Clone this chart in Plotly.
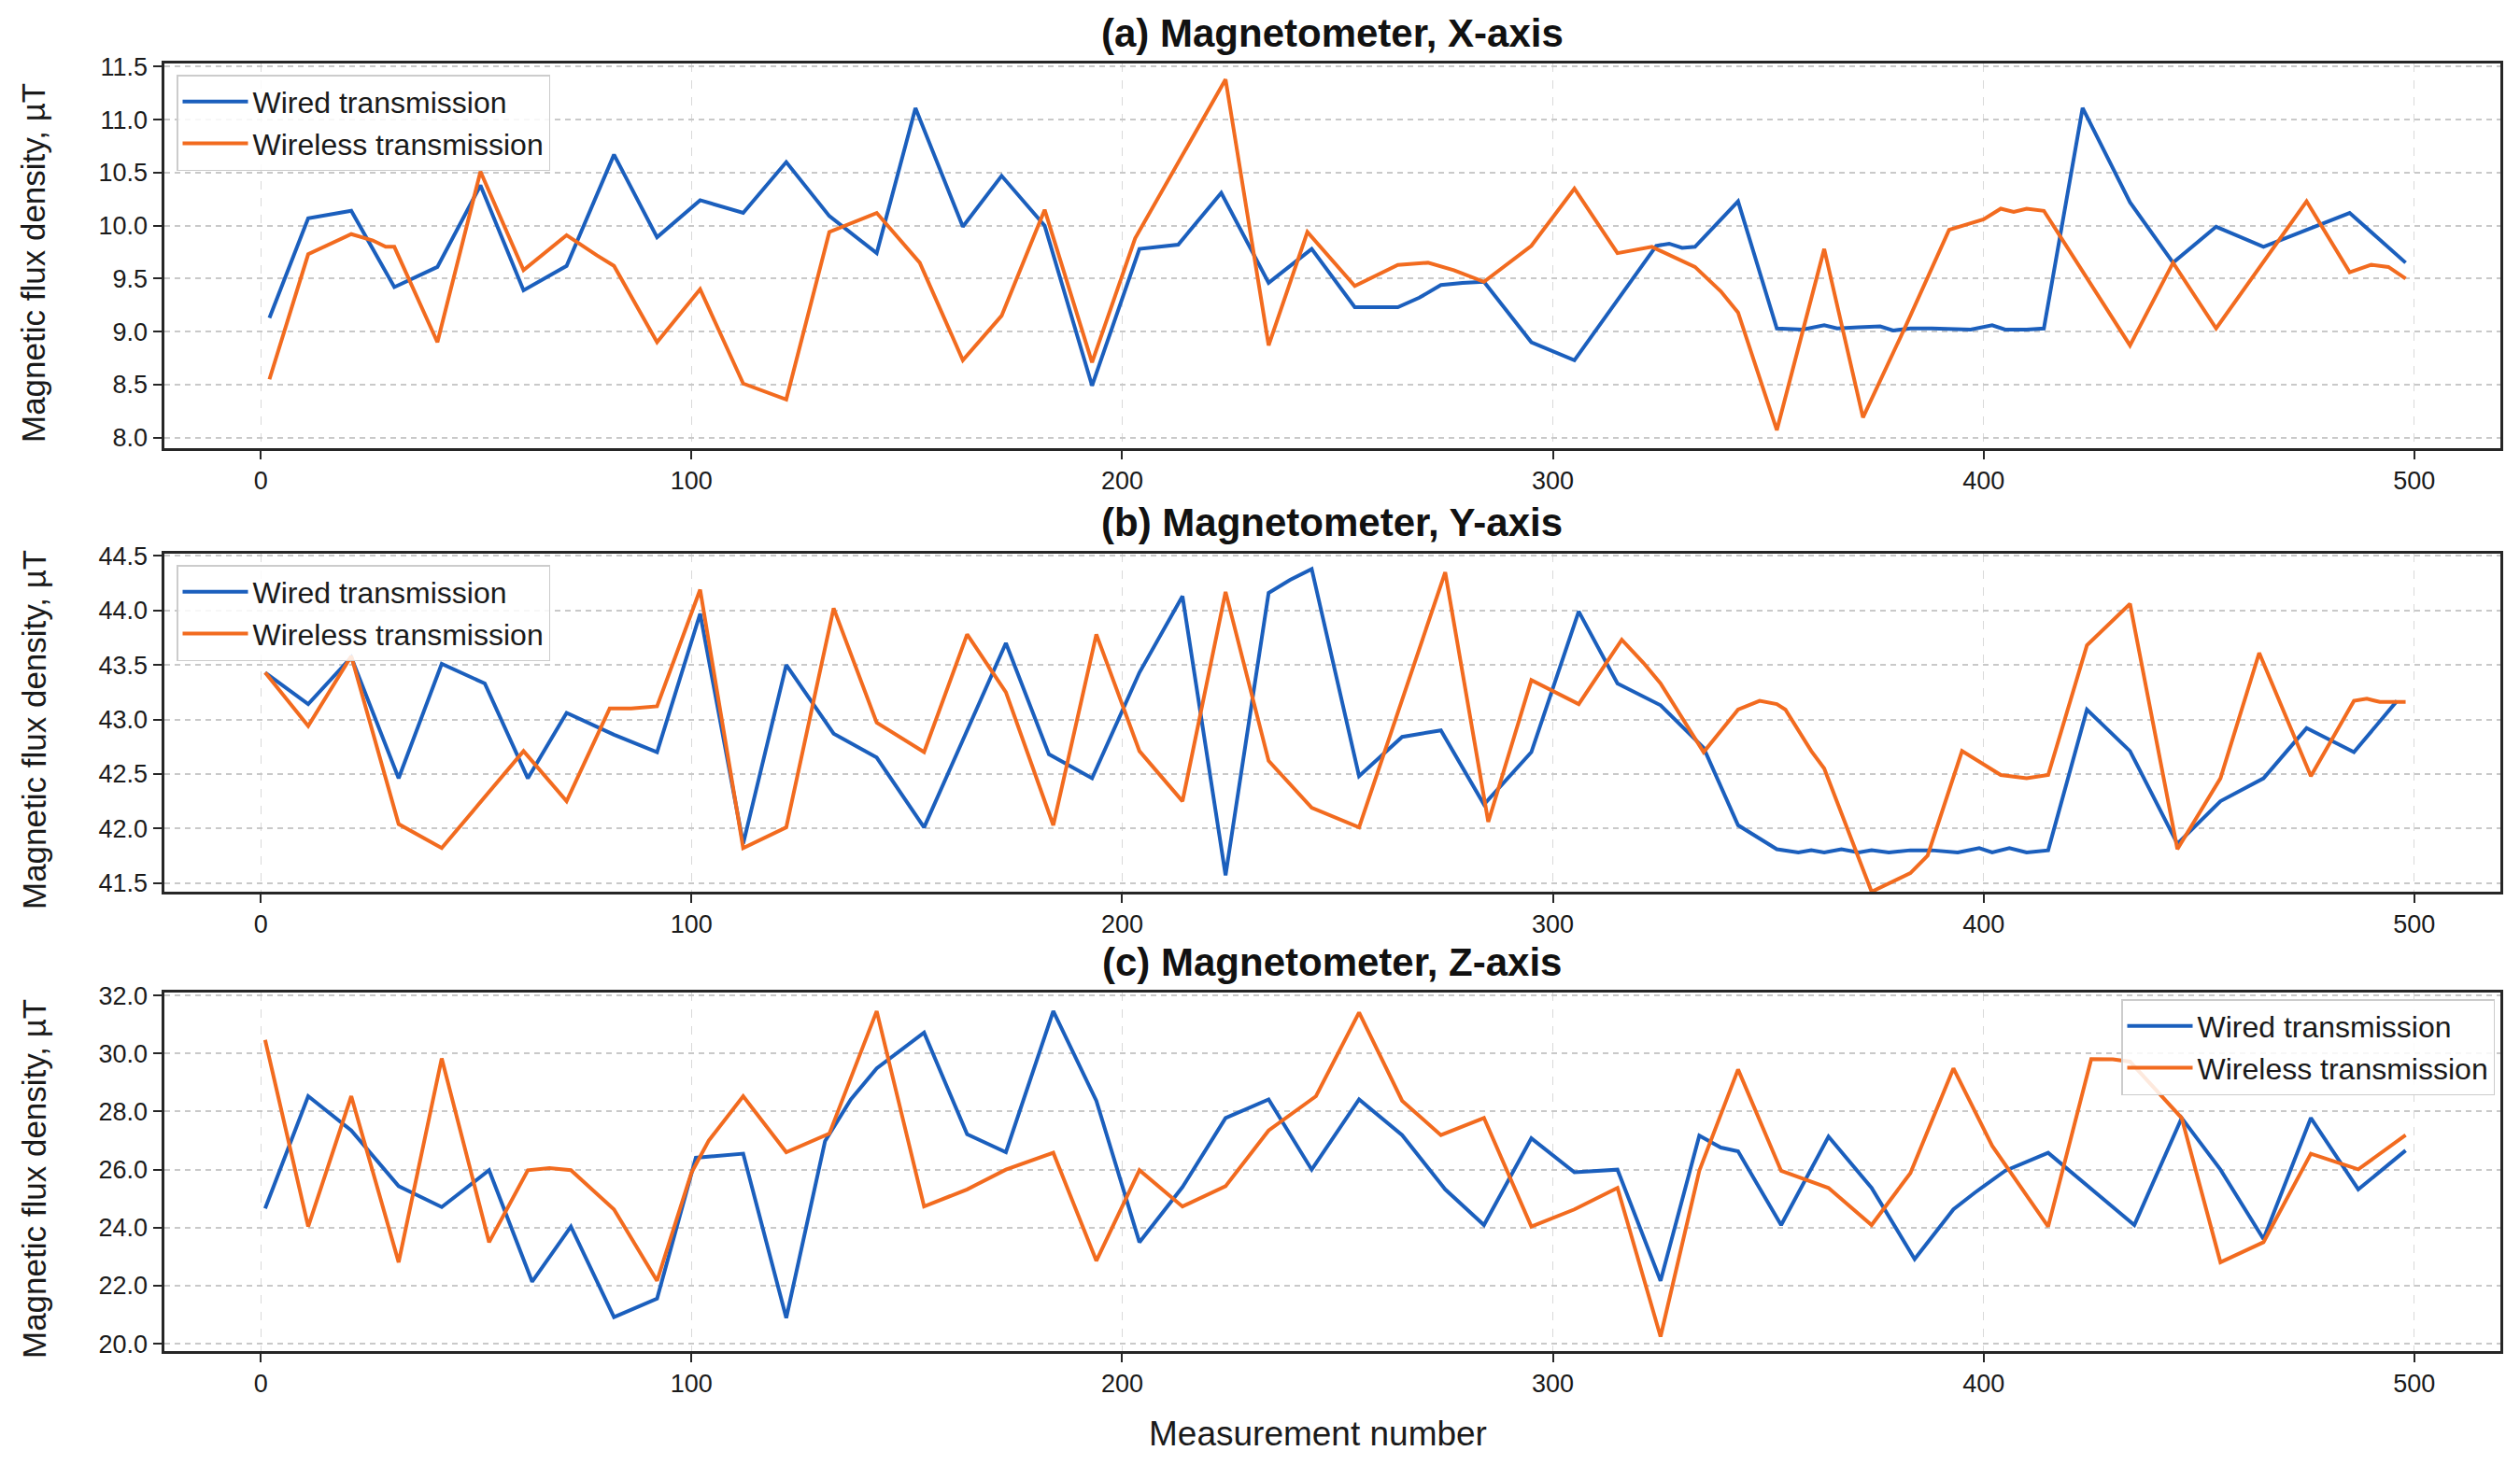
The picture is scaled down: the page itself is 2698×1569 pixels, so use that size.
import plotly.graph_objects as go

# ---------------- data ----------------
# (a) Magnetometer, X-axis
a_wired_x = [2, 11, 21, 31, 41, 51, 61, 71, 82, 92, 102, 112, 122, 132, 143, 152, 163, 172, 182, 193,
             204, 213, 223, 234, 244, 254, 264, 269, 274, 279, 284, 295, 305, 324, 327, 330, 333, 343, 352, 358,
             363, 366, 371, 376, 379, 383, 388, 393, 397, 402, 405, 410, 414, 423, 434, 444, 454, 465, 475, 485, 498]
a_wired_y = [9.13, 10.07, 10.14, 9.42, 9.61, 10.38, 9.39, 9.62, 10.67, 9.89, 10.24, 10.12, 10.60, 10.09, 9.74,
             11.11, 9.99, 10.47, 10.00, 8.49, 9.78, 9.82, 10.31, 9.46, 9.78, 9.23, 9.23, 9.32, 9.44, 9.46,
             9.47, 8.90, 8.73, 9.81, 9.83, 9.79, 9.80, 10.23, 9.03, 9.02, 9.06, 9.03, 9.04, 9.05, 9.01, 9.03,
             9.03, 9.02, 9.02, 9.06, 9.02, 9.02, 9.03, 11.11, 10.22, 9.65, 9.99, 9.80, 9.96, 10.12, 9.65]
a_wireless_x = [2, 11, 21, 26, 29, 31, 41, 51, 61, 71, 78, 82, 92, 102, 112, 122, 132, 143, 153, 163,
                172, 182, 193, 203, 224, 234, 243, 254, 264, 271, 277, 284, 295, 305, 315, 323, 333, 339, 343, 352,
                363, 372, 382, 392, 400, 404, 407, 410, 414, 434, 444, 454, 475, 485, 490, 494, 498]
a_wireless_y = [8.55, 9.73, 9.92, 9.86, 9.80, 9.80, 8.90, 10.51, 9.58, 9.91, 9.72, 9.62, 8.90, 9.40, 8.51,
                8.36, 9.94, 10.12, 9.65, 8.73, 9.15, 10.15, 8.71, 9.88, 11.38, 8.87, 9.94, 9.43, 9.63, 9.65,
                9.58, 9.47, 9.81, 10.35, 9.74, 9.80, 9.61, 9.38, 9.18, 8.07, 9.78, 8.19, 9.06, 9.96, 10.06,
                10.16, 10.13, 10.16, 10.14, 8.87, 9.65, 9.03, 10.23, 9.56, 9.63, 9.61, 9.50]

# (b) Magnetometer, Y-axis
b_wired_x = [1, 11, 21, 32, 42, 52, 62, 71, 82, 92, 102, 112, 122, 133, 143, 154, 173, 183, 193, 204,
             214, 224, 234, 239, 244, 255, 265, 270, 274, 284, 295, 306, 315, 325, 335, 343, 352, 357, 360, 363,
             367, 371, 374, 378, 383, 388, 394, 399, 402, 406, 410, 415, 424, 434, 445, 455, 465, 475, 486, 496]
b_wired_y = [43.43, 43.14, 43.57, 42.46, 43.51, 43.33, 42.46, 43.06, 42.86, 42.70, 43.97, 41.86, 43.50, 42.87,
             42.65, 42.01, 43.70, 42.68, 42.46, 43.43, 44.13, 41.57, 44.16, 44.28, 44.38, 42.48, 42.84, 42.87,
             42.90, 42.22, 42.70, 43.99, 43.33, 43.13, 42.74, 42.03, 41.81, 41.78, 41.80, 41.78, 41.81, 41.78,
             41.80, 41.78, 41.80, 41.80, 41.78, 41.82, 41.78, 41.82, 41.78, 41.80, 43.09, 42.71, 41.86, 42.25,
             42.46, 42.92, 42.70, 43.17]
b_wireless_x = [1, 11, 21, 32, 42, 61, 71, 81, 86, 92, 102, 112, 122, 133, 143, 154, 164, 173, 184, 194,
                204, 214, 224, 234, 244, 255, 275, 285, 295, 306, 316, 321, 325, 335, 343, 348, 352, 354, 360, 363,
                374, 383, 387, 395, 404, 410, 415, 424, 434, 445, 455, 464, 476, 486, 489, 492, 498]
b_wireless_y = [43.43, 42.94, 43.58, 42.04, 41.82, 42.71, 42.25, 43.10, 43.10, 43.12, 44.19, 41.82, 42.01,
                44.02, 42.97, 42.70, 43.78, 43.25, 42.03, 43.78, 42.71, 42.25, 44.17, 42.62, 42.19, 42.01, 44.35,
                42.06, 43.36, 43.14, 43.73, 43.52, 43.33, 42.70, 43.09, 43.17, 43.14, 43.09, 42.71, 42.55, 41.42,
                41.59, 41.75, 42.71, 42.49, 42.46, 42.49, 43.68, 44.06, 41.81, 42.46, 43.61, 42.48, 43.17, 43.19,
                43.16, 43.16]

# (c) Magnetometer, Z-axis
c_wired_x = [1, 11, 21, 32, 42, 53, 63, 72, 82, 92, 101, 112, 122, 131, 137, 143, 154, 164, 173, 184,
             194, 204, 214, 224, 234, 244, 255, 265, 275, 284, 295, 305, 315, 325, 334, 339, 343, 353, 364, 374,
             384, 393, 398, 405, 415, 425, 435, 446, 455, 465, 476, 487, 498]
c_wired_y = [24.66, 28.53, 27.35, 25.43, 24.71, 25.98, 22.14, 24.04, 20.92, 21.56, 26.41, 26.55, 20.89, 26.98,
             28.42, 29.49, 30.72, 27.22, 26.60, 31.46, 28.37, 23.50, 25.40, 27.78, 28.42, 26.00, 28.42, 27.19,
             25.32, 24.09, 27.08, 25.91, 26.00, 22.17, 27.17, 26.76, 26.63, 24.09, 27.14, 25.37, 22.92, 24.63,
             25.21, 25.96, 26.58, 25.32, 24.09, 27.78, 26.00, 23.61, 27.78, 25.32, 26.66]
c_wireless_x = [1, 11, 21, 32, 42, 53, 62, 67, 72, 82, 92, 100, 104, 112, 122, 132, 143, 154, 164, 173,
                184, 194, 204, 214, 224, 234, 245, 255, 265, 274, 284, 295, 305, 315, 325, 334, 343, 353, 364, 374,
                383, 393, 402, 415, 425, 430, 434, 440, 446, 455, 465, 476, 487, 498]
c_wireless_y = [30.47, 24.04, 28.53, 22.81, 29.83, 23.50, 25.98, 26.05, 25.98, 24.63, 22.17, 25.90, 27.00,
                28.53, 26.60, 27.24, 31.46, 24.73, 25.32, 26.00, 26.58, 22.86, 25.98, 24.73, 25.43, 27.35, 28.53,
                31.41, 28.37, 27.19, 27.78, 24.04, 24.63, 25.37, 20.25, 25.96, 29.45, 25.96, 25.37, 24.09, 25.88,
                29.49, 26.82, 24.04, 29.81, 29.80, 29.72, 28.74, 27.78, 22.81, 23.50, 26.55, 26.01, 27.19]

titles = ["(a) Magnetometer, X-axis", "(b) Magnetometer, Y-axis", "(c) Magnetometer, Z-axis"]
series_names = ["Wired transmission", "Wireless transmission"]
y_label = "Magnetic flux density, µT"
x_label = "Measurement number"

# ---------------- figure ----------------
W, H = 2698, 1569
BLUE = "#1b5fbd"
ORANGE = "#f26b1f"
FONT = "Liberation Sans, Arial, sans-serif"

left_px, right_px = 175.5, 2677
panels_px = [(68, 480), (593, 955), (1063, 1447)]
yranges = [[7.9, 11.53], [41.42, 44.52], [19.75, 32.1]]
ydticks = [0.5, 0.5, 2.0]
legend_pos = [dict(x=189 / W, y=1 - 80 / H, xanchor="left"),
              dict(x=189 / W, y=1 - 605 / H, xanchor="left"),
              dict(x=2671 / W, y=1 - 1070 / H, xanchor="right")]

data = [
    (a_wired_x, a_wired_y, a_wireless_x, a_wireless_y),
    (b_wired_x, b_wired_y, b_wireless_x, b_wireless_y),
    (c_wired_x, c_wired_y, c_wireless_x, c_wireless_y),
]

fig = go.Figure()
layout = {}
annotations = []
for i, (wx, wy, lx, ly) in enumerate(data):
    n = "" if i == 0 else str(i + 1)
    lg = "legend" + n
    fig.add_trace(go.Scatter(x=wx, y=wy, mode="lines", name=series_names[0],
                             line=dict(color=BLUE, width=4), xaxis="x" + n, yaxis="y" + n,
                             legend=lg))
    fig.add_trace(go.Scatter(x=lx, y=ly, mode="lines", name=series_names[1],
                             line=dict(color=ORANGE, width=4), xaxis="x" + n, yaxis="y" + n,
                             legend=lg))
    top, bot = panels_px[i]
    ydom = [1 - bot / H, 1 - top / H]
    axis_common = dict(showline=True, mirror=True, linecolor="#262626", linewidth=3,
                       ticks="outside", ticklen=9, tickwidth=2, tickcolor="#262626",
                       showgrid=True, zeroline=False, automargin=False,
                       tickfont=dict(family=FONT, size=27, color="#1a1a1a"))
    layout["xaxis" + n] = dict(axis_common, domain=[left_px / W, right_px / W], range=[-22.5, 520],
                               tick0=0, dtick=100, anchor="y" + n,
                               gridcolor="#d9d9d9", gridwidth=1.3, griddash="dash")
    layout["yaxis" + n] = dict(axis_common, domain=ydom, range=yranges[i], dtick=ydticks[i],
                               tick0=0, tickformat=".1f", anchor="x" + n,
                               gridcolor="#c9c9c9", gridwidth=1.6, griddash="6px,5px")
    layout[lg] = dict(legend_pos[i], yanchor="top", bgcolor="rgba(255,255,255,0.85)",
                      bordercolor="#cccccc", borderwidth=1.5,
                      font=dict(family=FONT, size=32, color="#1a1a1a"),
                      itemwidth=70, tracegroupgap=0)
    annotations.append(dict(text="<b>" + titles[i] + "</b>", x=(left_px + right_px) / 2 / W,
                            y=1 - (top - 33) / H, xref="paper", yref="paper", showarrow=False,
                            xanchor="center", yanchor="middle",
                            font=dict(family=FONT, size=42, color="#111111")))
    annotations.append(dict(text=y_label, x=36 / W, y=1 - ((top + bot) / 2 + 8) / H, xref="paper",
                            yref="paper", showarrow=False, textangle=-90, xanchor="center",
                            yanchor="middle", font=dict(family=FONT, size=35, color="#1a1a1a")))

annotations.append(dict(text=x_label, x=1411 / W, y=1 - 1535 / H, xref="paper", yref="paper",
                        showarrow=False, xanchor="center", yanchor="middle",
                        font=dict(family=FONT, size=37, color="#1a1a1a")))

fig.update_layout(width=W, height=H, margin=dict(l=0, r=0, t=0, b=0, pad=0, autoexpand=False),
                  plot_bgcolor="white", paper_bgcolor="white",
                  annotations=annotations, **layout)

fig.write_html("out.html")
